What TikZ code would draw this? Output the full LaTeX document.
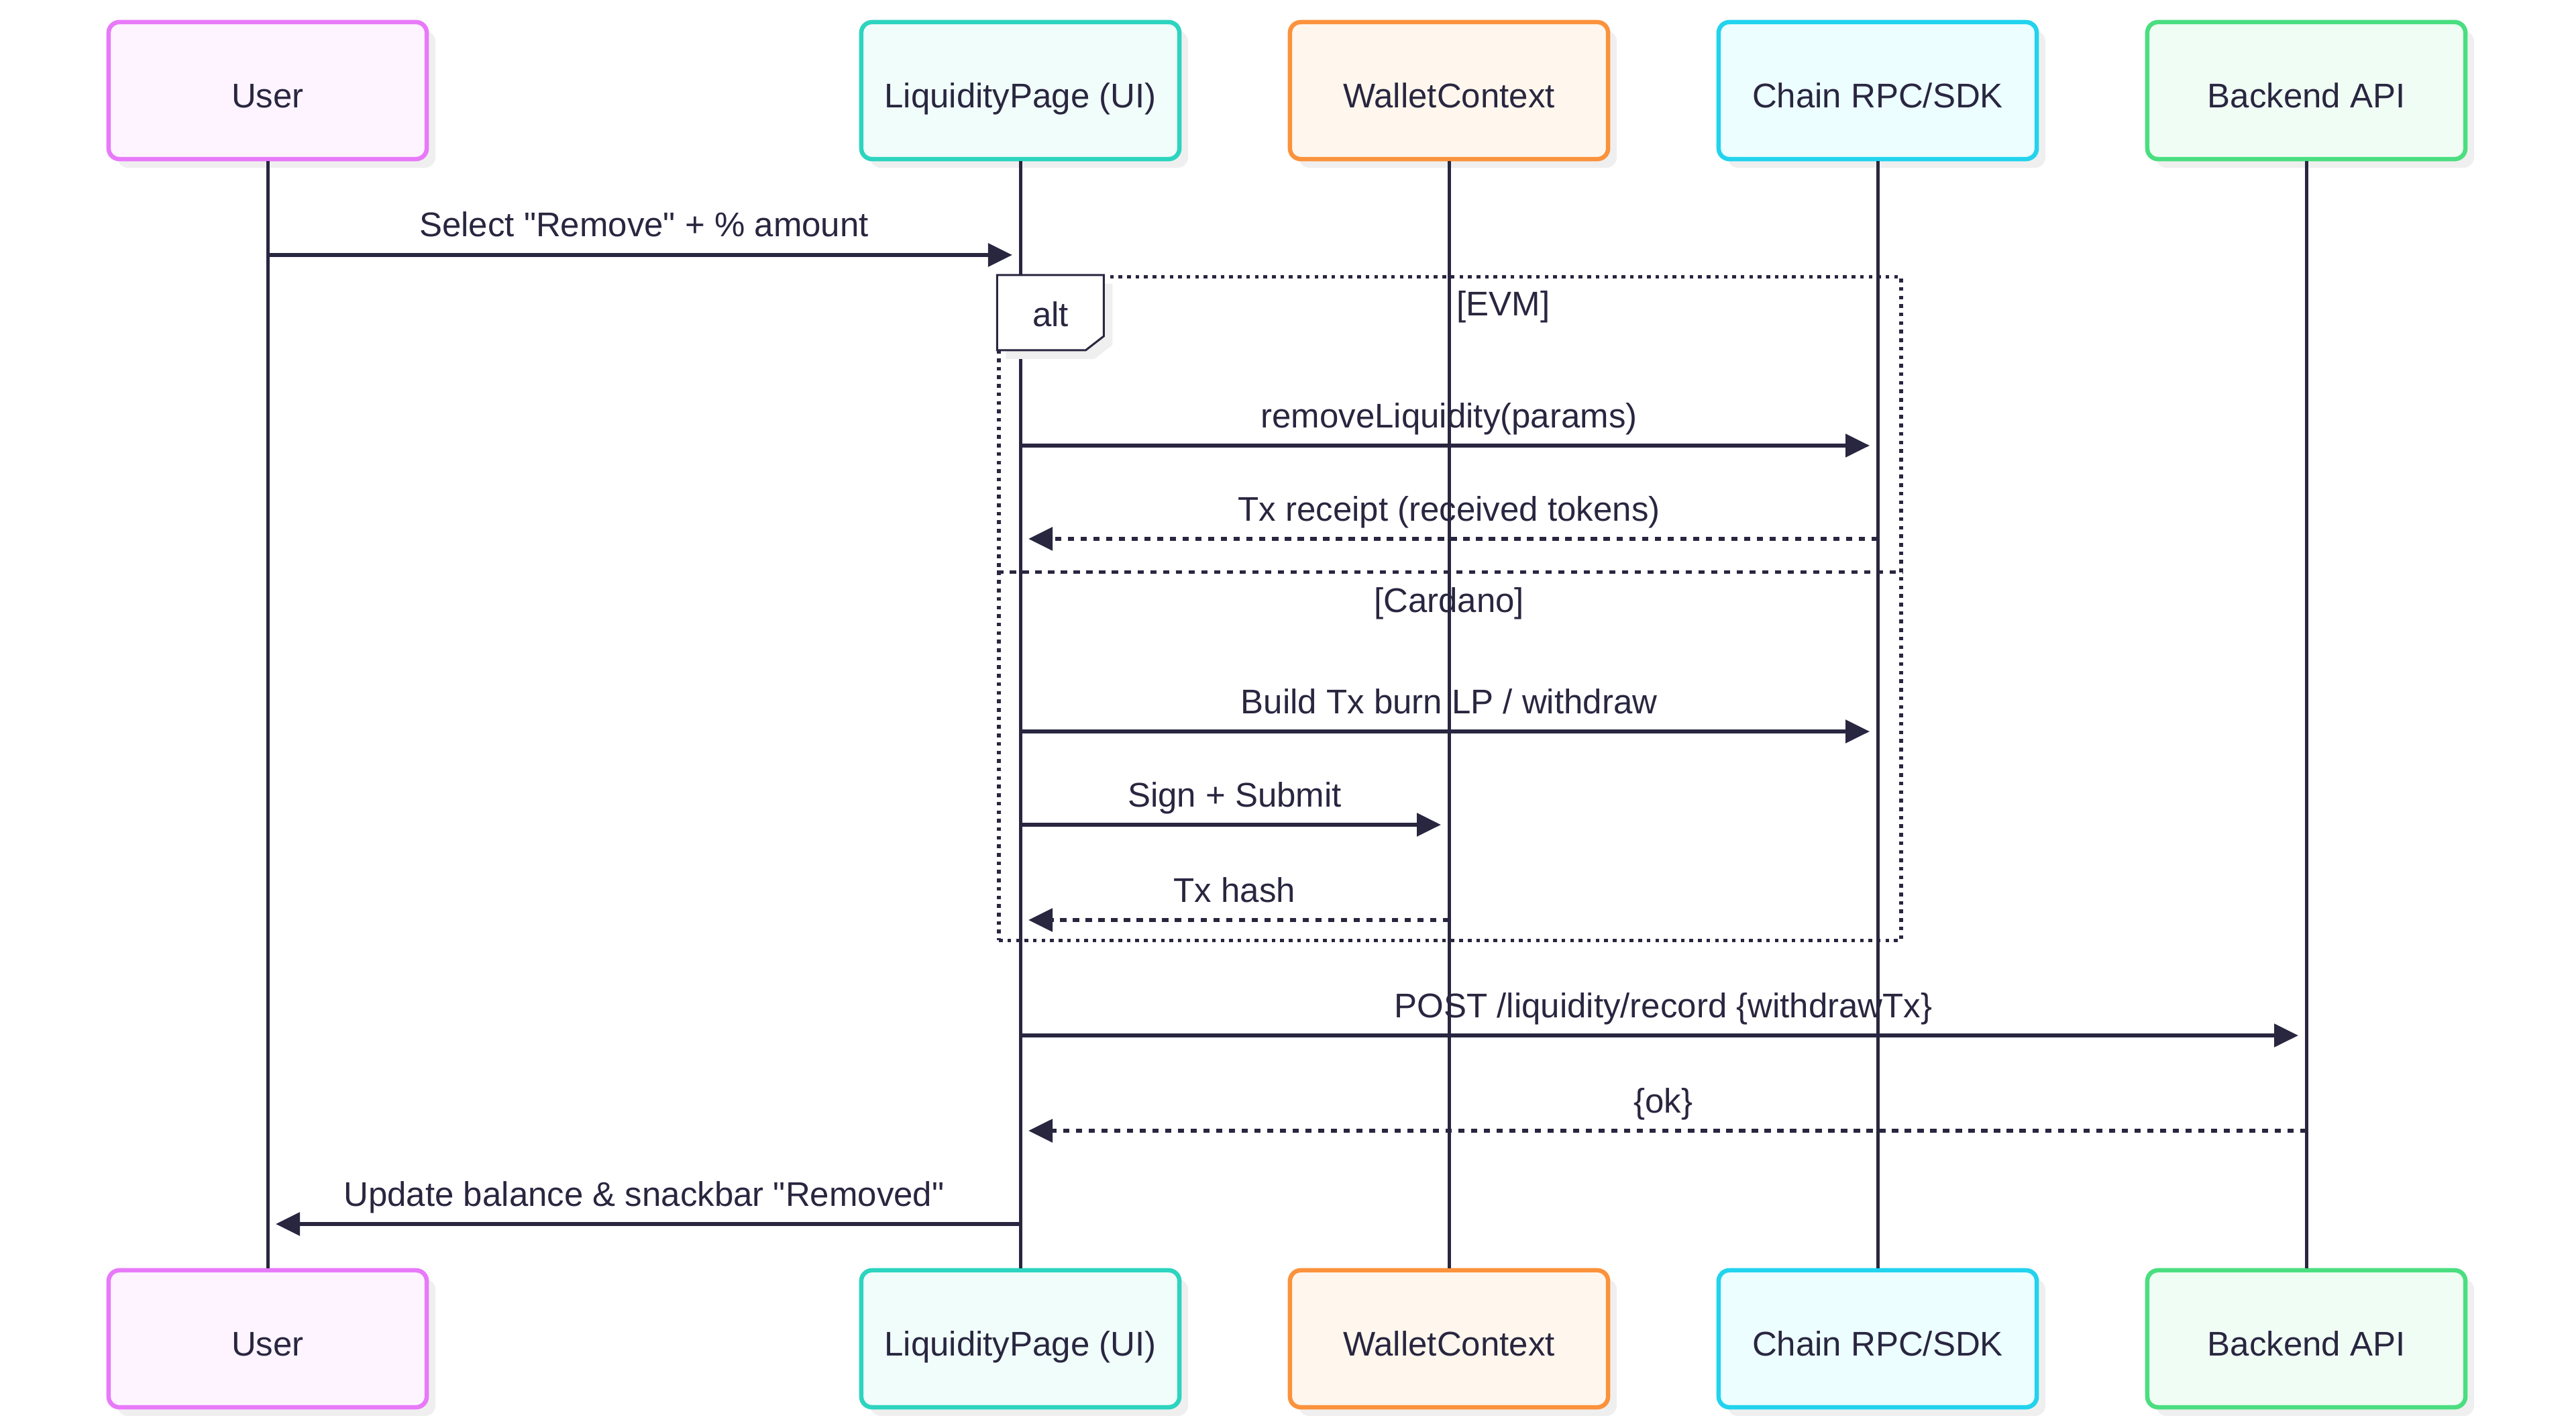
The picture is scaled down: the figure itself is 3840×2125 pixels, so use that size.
\documentclass[tikz,border=0pt]{standalone}
\usepackage{fontspec}
\setmainfont{Liberation Sans}[Ligatures=TeXOff]
\usetikzlibrary{shadows,arrows.meta}
\definecolor{ink}{HTML}{292640}
\definecolor{shade}{HTML}{EFEFEF}
\definecolor{userB}{HTML}{E879F9}\definecolor{userF}{HTML}{FDF4FF}
\definecolor{lpB}{HTML}{2DD4BF}\definecolor{lpF}{HTML}{F0FDFA}
\definecolor{wcB}{HTML}{FB923C}\definecolor{wcF}{HTML}{FFF7ED}
\definecolor{chB}{HTML}{22D3EE}\definecolor{chF}{HTML}{ECFEFF}
\definecolor{beB}{HTML}{4ADE80}\definecolor{beF}{HTML}{F0FDF4}
\begin{document}
\begin{tikzpicture}[x=0.01cm,y=-0.01cm,
  font=\fontsize{14.5}{17}\selectfont, text=ink,
  actor/.style={draw, line width=0.065cm, rounded corners=0.16cm,
    minimum width=4.74cm, minimum height=2.04cm, inner sep=0pt,
    text height=0.5cm, text depth=0cm,
    drop shadow={shadow xshift=0.13cm, shadow yshift=-0.13cm, fill=shade, opacity=1}},
  life/.style={draw=ink, line width=0.05cm},
  msg/.style={draw=ink, line width=0.055cm, -{Triangle[length=0.36cm,width=0.34cm]}, shorten >=0.12cm},
  reply/.style={msg, dash pattern=on 0.093cm off 0.097cm},
  lbl/.style={anchor=base, inner sep=0pt},
  frame/.style={draw=ink, line width=0.055cm, dash pattern=on 0.055cm off 0.072cm},
  divider/.style={draw=ink, line width=0.05cm, dash pattern=on 0.093cm off 0.097cm},
]
\useasboundingbox (0,0) rectangle (3840,2125);

% actors top
\node[actor, draw=userB, fill=userF] (u1) at (399,135) {User};
\node[actor, draw=lpB, fill=lpF] (lp1) at (1521,135) {LiquidityPage (UI)};
\node[actor, draw=wcB, fill=wcF] (wc1) at (2160,135) {WalletContext};
\node[actor, draw=chB, fill=chF] (ch1) at (2799,135) {Chain RPC/SDK};
\node[actor, draw=beB, fill=beF] (be1) at (3438,135) {Backend API};
% actors bottom
\node[actor, draw=userB, fill=userF] (u2) at (399,1995) {User};
\node[actor, draw=lpB, fill=lpF] (lp2) at (1521,1995) {LiquidityPage (UI)};
\node[actor, draw=wcB, fill=wcF] (wc2) at (2160,1995) {WalletContext};
\node[actor, draw=chB, fill=chF] (ch2) at (2799,1995) {Chain RPC/SDK};
\node[actor, draw=beB, fill=beF] (be2) at (3438,1995) {Backend API};

% lifelines
\draw[life] (u1.south) -- (u2.north);
\draw[life] (lp1.south) -- (lp2.north);
\draw[life] (wc1.south) -- (wc2.north);
\draw[life] (ch1.south) -- (ch2.north);
\draw[life] (be1.south) -- (be2.north);

% alt frame
\node[frame, minimum width=13.44cm, minimum height=9.88cm, inner sep=0pt] (alt) at (2161.5,907) {};
\draw[divider] (alt.west |- 0,852) -- (alt.east |- 0,852);
\filldraw[draw=ink, fill=white, line width=0.03cm,
  drop shadow={shadow xshift=0.13cm, shadow yshift=-0.13cm, fill=shade, opacity=1}]
  (alt.north west) -- ++(159,0) -- ++(0,91) -- ++(-27,21) -- ++(-132,0) -- cycle;
\node[lbl] (altlbl) at (1566,487) {alt};
\node[lbl] (evm) at (2241,471) {[EVM]};
\node[lbl] (cardano) at (2160,912) {[Cardano]};

% messages
\draw[msg] (u1 |- 0,380) -- (lp1 |- 0,380);
\node[lbl] (t1) at (960,353) {Select "Remove" + \% amount};

\draw[msg] (lp1 |- 0,664) -- (ch1 |- 0,664);
\node[lbl] (t2) at (2160,637) {removeLiquidity(params)};

\draw[reply] (ch1 |- 0,803) -- (lp1 |- 0,803);
\node[lbl] (t3) at (2160,776) {Tx receipt (received tokens)};

\draw[msg] (lp1 |- 0,1090) -- (ch1 |- 0,1090);
\node[lbl] (t4) at (2160,1063) {Build Tx burn LP / withdraw};

\draw[msg] (lp1 |- 0,1229) -- (wc1 |- 0,1229);
\node[lbl] (t5) at (1840.5,1202) {Sign + Submit};

\draw[reply] (wc1 |- 0,1371) -- (lp1 |- 0,1371);
\node[lbl] (t6) at (1840.5,1344) {Tx hash};

\draw[msg] (lp1 |- 0,1543) -- (be1 |- 0,1543);
\node[lbl] (t7) at (2479.5,1516) {POST /liquidity/record \{withdrawTx\}};

\draw[reply] (be1 |- 0,1685) -- (lp1 |- 0,1685);
\node[lbl] (t8) at (2479.5,1658) {\{ok\}};

\draw[msg] (lp1 |- 0,1824) -- (u1 |- 0,1824);
\node[lbl] (t9) at (960,1797) {Update balance \& snackbar "Removed"};
\end{tikzpicture}
\end{document}
